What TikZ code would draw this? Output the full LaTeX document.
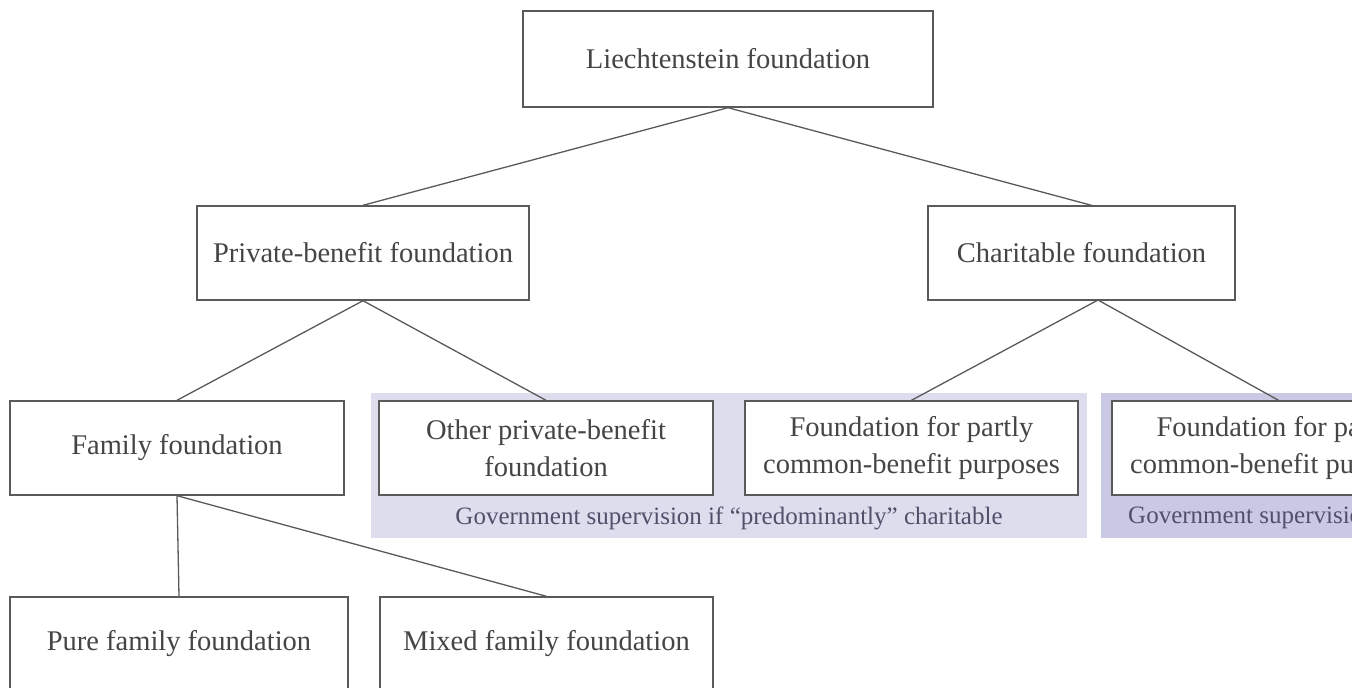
\documentclass[tikz,border=0pt]{standalone}
\usepackage{fontspec}
\setmainfont{Liberation Serif}
\definecolor{boxline}{HTML}{5A5A5A}
\definecolor{txt}{HTML}{454545}
\definecolor{bandA}{HTML}{DDDDEE}
\definecolor{bandB}{HTML}{C9C9E3}
\definecolor{bandtxt}{HTML}{50506A}
\tikzset{
  fbox/.style={draw=boxline, line width=1.4pt, fill=white, text=txt, minimum width=333pt, minimum height=94pt, inner sep=0pt, align=center, font=\fontsize{28.5}{37}\selectfont},
  link/.style={draw=boxline, line width=1.3pt},
  band/.style={fill=#1, draw=none},
  bandlabel/.style={text=bandtxt, font=\fontsize{25}{28}\selectfont, inner sep=0pt}
}
\begin{document}
\begin{tikzpicture}[x=1pt,y=-1pt]
\path[use as bounding box, clip] (0,0) rectangle (1352,688);
\fill[white] (0,0) rectangle (1352,688);
% bands
\path[band=bandA] (371,393) rectangle (1087,538);
\path[band=bandB] (1101,393) rectangle (1460,538);
\node[bandlabel] (g1) at (729,518) {Government supervision if “predominantly” charitable};
\node[bandlabel, anchor=west] (g2) at (1128,518) {Government supervision};
% boxes
\node[fbox, minimum width=410pt, minimum height=96pt] (lf) at (728,59) {Liechtenstein foundation};
\node[fbox, minimum width=332pt] (pb) at (363,253) {Private-benefit foundation};
\node[fbox, minimum width=307pt] (cf) at (1081.5,253) {Charitable foundation};
\node[fbox, minimum width=334pt] (ff) at (177,448) {Family foundation};
\node[fbox, minimum width=334pt] (op) at (546,448) {Other private-benefit\\foundation};
\node[fbox, minimum width=333pt] (p1) at (911.5,448) {Foundation for partly\\common-benefit purposes};
\node[fbox, minimum width=333pt] (p2) at (1278.5,448) {Foundation for partly\\common-benefit purposes};
\node[fbox, minimum width=338pt] (pf) at (179,644) {Pure family foundation};
\node[fbox, minimum width=333pt] (mf) at (546.5,644) {Mixed family foundation};
% connectors
\coordinate (cft) at (1094,206);
\coordinate (cfb) at (1098,300);
\draw[link] (lf.south) -- (pb.north);
\draw[link] (lf.south) -- (cft);
\draw[link] (pb.south) -- (ff.north);
\draw[link] (pb.south) -- (op.north);
\draw[link] (cfb) -- (p1.north);
\draw[link] (cfb) -- (p2.north);
\draw[link] (ff.south) -- (pf.north);
\draw[link] (ff.south) -- (mf.north);
\end{tikzpicture}
\end{document}
